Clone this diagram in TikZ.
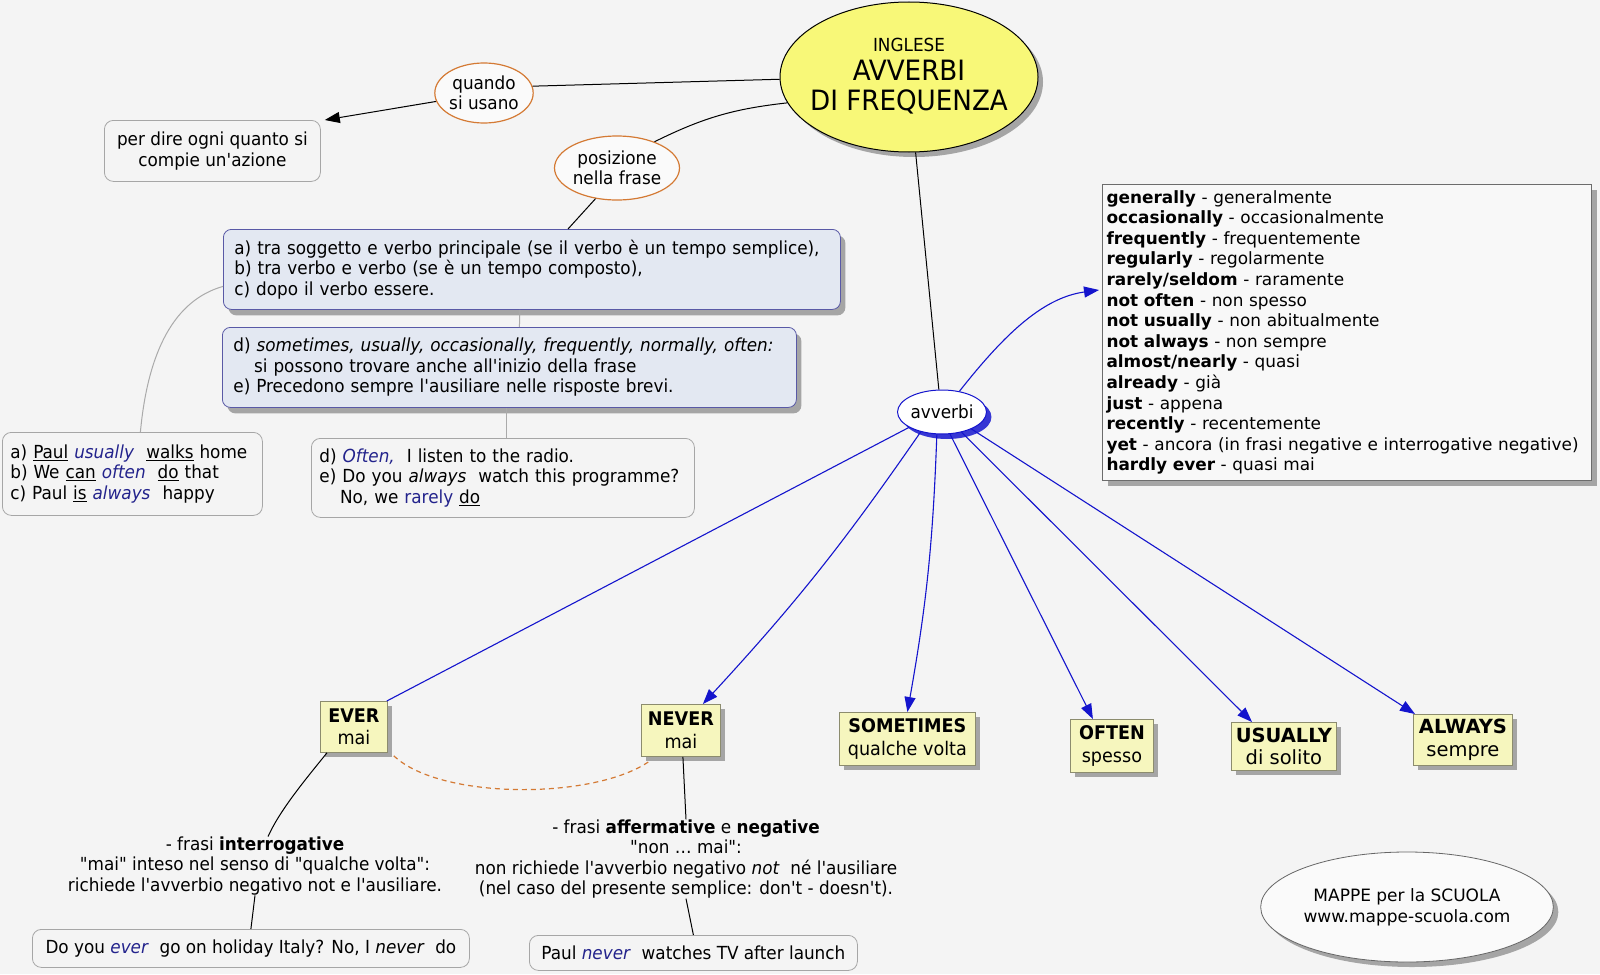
\documentclass[tikz,border=0pt]{standalone}
\usepackage{fontspec}
\usetikzlibrary{shapes.geometric,shadows,arrows.meta,calc}
\newfontfamily\cf{DejaVu Sans Condensed}[Ligatures=TeXOff, FakeStretch=1.04, BoldFont={DejaVu Sans Condensed Bold}, ItalicFont={DejaVu Sans Condensed Oblique}, BoldItalicFont={DejaVu Sans Condensed Bold Oblique}]
\newfontfamily\vf{DejaVu Sans}[Ligatures=TeXOff]
\definecolor{bgc}{RGB}{244,244,244}
\definecolor{yel}{RGB}{248,248,120}
\definecolor{orb}{RGB}{212,122,52}
\definecolor{bluebox}{RGB}{227,232,242}
\definecolor{ybox}{RGB}{246,246,190}
\definecolor{ablue}{RGB}{20,20,205}
\definecolor{tblue}{RGB}{35,35,140}
\definecolor{gline}{RGB}{170,170,170}
\definecolor{shad}{RGB}{165,165,165}
\definecolor{ybord}{RGB}{140,140,110}
\tikzset{
 txt/.style={font=\cf\fontsize{18}{20.5}\selectfont},
 oval/.style={ellipse, draw=orb, line width=1.2pt, fill=white!55!bgc, inner sep=0pt, align=center, txt},
 exbox/.style={draw=gray!70, rounded corners=9pt, fill=bgc, line width=0.8pt, txt},
 bluebx/.style={draw=gray!70!blue, rounded corners=8pt, fill=bluebox, line width=0.8pt, txt, drop shadow={shadow xshift=5pt,shadow yshift=-6pt,fill=shad,opacity=1}},
 ybx/.style={draw=ybord, fill=ybox, line width=0.8pt, drop shadow={shadow xshift=5pt,shadow yshift=-5pt,fill=shad,opacity=1}, align=center, inner sep=2pt},
 ytxt/.style={font=\cf\fontsize{18.8}{22.5}\selectfont},
 yvtxt/.style={font=\vf\fontsize{19.5}{22.5}\selectfont},
 barr/.style={draw=ablue, line width=1.1pt, -{Triangle[length=15pt,width=11pt]}},
 bln/.style={draw=ablue, line width=1.1pt},
 kln/.style={draw=black, line width=1pt},
 gln/.style={draw=gline, line width=1pt},
}
\begin{document}
\begin{tikzpicture}[x=1pt,y=-1pt]
\fill[bgc] (0,0) rectangle (1600,974);
\useasboundingbox (0,0) rectangle (1600,974);

% main ellipse
\node[ellipse, draw=black, line width=1pt, fill=yel, minimum width=258pt, minimum height=150pt, inner sep=0pt,
  drop shadow={shadow xshift=5pt,shadow yshift=-5pt,fill=shad,opacity=1}] (main) at (909,77) {};
\node[font=\cf\fontsize{18}{19}\selectfont] (mainI) at (909,45) {INGLESE};
\node[font=\cf\fontsize{28}{30}\selectfont, align=center] (mainT) at (909,87) {AVVERBI\\DI FREQUENZA};

% ovals
\node[oval, minimum width=94pt, minimum height=60pt] (quando) at (484,93) {quando\\si usano};
\node[oval, minimum width=112pt, minimum height=64pt] (posizione) at (617,168) {posizione\\nella frase};

% boxes
\node[exbox, anchor=north west, minimum width=216pt, minimum height=61pt, align=center] (perdire) at (104,120) {per dire ogni quanto si\\compie un'azione};

\node[bluebx, anchor=north west, minimum width=617pt, minimum height=80pt, inner xsep=11pt, text width=595pt, align=left] (boxac) at (223,229)
 {a) tra soggetto e verbo principale (se il verbo è un tempo semplice),\\b) tra verbo e verbo (se è un tempo composto),\\c) dopo il verbo essere.};

\node[bluebx, anchor=north west, minimum width=574pt, minimum height=80pt, inner xsep=11pt, text width=552pt, align=left] (boxde) at (222,327)
 {d) \textit{sometimes, usually, occasionally, frequently, normally, often:}\\\hspace*{1.15em}si possono trovare anche all'inizio della frase\\e) Precedono sempre l'ausiliare nelle risposte brevi.};

\node[exbox, anchor=north west, minimum width=260pt, minimum height=83pt, inner xsep=8pt, text width=244pt, align=left] (exl) at (2,432)
 {a) \underline{Paul} \textcolor{tblue}{\textit{usually}}\ \ \underline{walks} home\\b) We \underline{can} \textcolor{tblue}{\textit{often}}\ \ \underline{do} that\\c) Paul \underline{is} \textcolor{tblue}{\textit{always}}\ \ happy};

\node[exbox, anchor=north west, minimum width=383pt, minimum height=79pt, inner xsep=8pt, text width=367pt, align=left] (exm) at (311,438)
 {d) \textcolor{tblue}{\textit{Often,}}\ \ I listen to the radio.\\e) Do you \textit{always}\ \ watch this programme?\\\hspace*{1.15em}No, we \textcolor{tblue}{rarely} \underline{do}};

\node[draw=gray!85!black, fill=white!40!bgc, line width=1pt, anchor=north west, minimum width=489pt, minimum height=296pt, inner xsep=4pt, text width=481pt, align=left,
  font=\vf\fontsize{16.9}{20.6}\selectfont, drop shadow={shadow xshift=5pt,shadow yshift=-5pt,fill=shad,opacity=1}] (list) at (1102,184)
 {\textbf{generally} - generalmente\\
  \textbf{occasionally} - occasionalmente\\
  \textbf{frequently} - frequentemente\\
  \textbf{regularly} - regolarmente\\
  \textbf{rarely/seldom} - raramente\\
  \textbf{not often} - non spesso\\
  \textbf{not usually} - non abitualmente\\
  \textbf{not always} - non sempre\\
  \textbf{almost/nearly} - quasi\\
  \textbf{already} - già\\
  \textbf{just} - appena\\
  \textbf{recently} - recentemente\\
  \textbf{yet} - ancora (in frasi negative e interrogative negative)\\
  \textbf{hardly ever} - quasi mai};

% avverbi
\node[ellipse, draw=ablue, line width=1pt, fill=white, minimum width=88pt, minimum height=44pt, inner sep=0pt, txt,
  drop shadow={shadow xshift=5pt,shadow yshift=-5pt,fill=ablue!85,opacity=1}] (avverbi) at (942,412) {avverbi};

% yellow boxes
\node[ybx, ytxt, anchor=north west, minimum width=67pt, minimum height=51pt] (EVER) at (320,701) {\textbf{EVER}\\mai};
\node[ybx, ytxt, anchor=north west, minimum width=79pt, minimum height=52pt] (NEVER) at (641,704) {\textbf{NEVER}\\mai};
\node[ybx, ytxt, anchor=north west, minimum width=136pt, minimum height=53pt] (SOMETIMES) at (839,712) {\textbf{SOMETIMES}\\qualche volta};
\node[ybx, ytxt, anchor=north west, minimum width=83pt, minimum height=53pt] (OFTEN) at (1070,719) {\textbf{OFTEN}\\spesso};
\node[ybx, yvtxt, anchor=north west, minimum width=105pt, minimum height=48pt] (USUALLY) at (1231,722) {\textbf{USUALLY}\\di solito};
\node[ybx, yvtxt, anchor=north west, minimum width=99pt, minimum height=51pt] (ALWAYS) at (1413,714) {\textbf{ALWAYS}\\sempre};

% notes
\node[txt, align=center, inner sep=0pt] (interr) at (255,866)
 {- frasi \textbf{interrogative}\\"mai" inteso nel senso di "qualche volta":\\richiede l'avverbio negativo not e l'ausiliare.};
\node[txt, align=center, inner sep=0pt] (affer) at (686,859)
 {- frasi \textbf{affermative} e \textbf{negative}\\"non … mai":\\non richiede l'avverbio negativo \textit{not}\ \ né l'ausiliare\\(nel caso del presente semplice: don't - doesn't).};

\node[exbox, anchor=north west, minimum width=437pt, minimum height=38pt] (doyou) at (32,929)
 {Do you \textcolor{tblue}{\textit{ever}}\ \ go on holiday Italy? No, I \textit{never}\ \ do};
\node[exbox, anchor=north west, minimum width=328pt, minimum height=35pt] (paul) at (529,935)
 {Paul \textcolor{tblue}{\textit{never}}\ \ watches TV after launch};

% MAPPE
\node[ellipse, draw=gray!80!black, line width=0.8pt, fill=white!50!bgc, minimum width=246pt, minimum height=110pt, inner sep=0pt, align=center,
  font=\vf\fontsize{17}{21}\selectfont, drop shadow={shadow xshift=5pt,shadow yshift=-5pt,fill=shad,opacity=1}] (mappe) at (1407,907)
 {MAPPE per la SCUOLA\\www.mappe-scuola.com};

% connectors
\draw[kln] (main.181) -- (quando.8);
\draw[kln, -{Triangle[length=15pt,width=11pt]}] (quando.190) -- ([xshift=4pt]perdire.north east);
\draw[kln] (main.192) to[bend right=10] (posizione.35);
\draw[kln] (posizione.235) -- ([xshift=345pt]boxac.north west);
\draw[gln] ([yshift=-17pt]boxac.west) .. controls (175,300) and (148,350) .. ([xshift=8pt]exl.north);
\draw[gln] ([xshift=-12pt]boxac.south) -- ([xshift=10pt]boxde.north);
\draw[gln] ([xshift=-3pt]boxde.south) -- ([xshift=3.5pt]exm.north);

\draw[kln] (main.275) -- (avverbi.98);
\draw[barr] (avverbi.50) .. controls (1000,340) and (1040,298) .. ([yshift=-106pt,xshift=-3pt]list.north west);
\draw[bln] (avverbi.205) -- ([xshift=-1pt]EVER.north east);
\draw[barr] (avverbi.223) to[bend left=4] ([xshift=22pt]NEVER.north);
\draw[barr] (avverbi.257) to[bend left=4] (SOMETIMES.north);
\draw[barr] (avverbi.290) -- ([xshift=-19pt]OFTEN.north);
\draw[barr] (avverbi.314) -- ([xshift=21pt]USUALLY.north west);
\draw[barr] (avverbi.330) -- ([xshift=2pt]ALWAYS.north west);

\draw[draw=orb, line width=1.2pt, dash pattern=on 5pt off 4pt] ([xshift=6pt,yshift=-3pt]EVER.south east) .. controls (440,800) and (595,800) .. ([xshift=9pt,yshift=-4pt]NEVER.south west);
\draw[kln] ([xshift=7pt]EVER.south west) .. controls (305,780) and (280,810) .. ([xshift=13pt]interr.north);
\draw[kln] ([xshift=2pt]NEVER.south) -- (affer.north);
\draw[kln] (interr.south) -- (doyou.north);
\draw[kln] (affer.south) -- (paul.north);
\end{tikzpicture}
\end{document}
